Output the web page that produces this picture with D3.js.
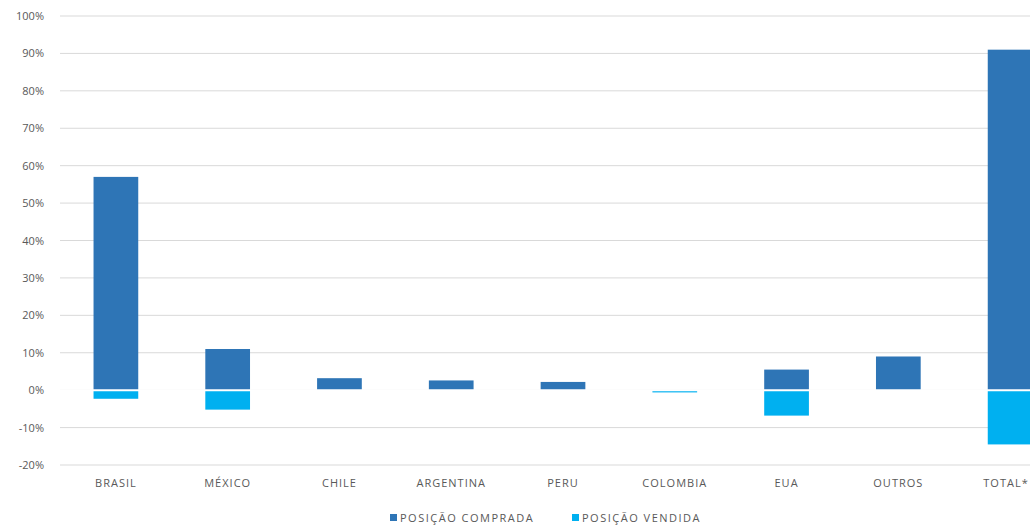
<!DOCTYPE html>
<html><head><meta charset="utf-8">
<script src="https://cdn.jsdelivr.net/npm/d3@7"></script>
<style>body{margin:0;background:#fff;font-family:"Open Sans",sans-serif;overflow:hidden}</style>
</head><body><svg id="chart" width="1030" height="527"></svg>
<script>
var categories = ['BRASIL','MÉXICO','CHILE','ARGENTINA','PERU','COLOMBIA','EUA','OUTROS','TOTAL*'];
var comprada = [57, 11, 3.2, 2.6, 2.2, 0, 5.5, 9, 91];
var vendida = [-2.3, -5.2, 0, 0, 0, -0.6, -6.8, 0, -14.5];
var ticks = [-20,-10,0,10,20,30,40,50,60,70,80,90,100];

var svg = d3.select('#chart');
var x = d3.scaleBand().domain(categories).range([60, 1066]).paddingInner(0.6).paddingOuter(0.3);
var y = d3.scaleLinear().domain([-20, 100]).range([465, 16]);

svg.selectAll('.grid').data(ticks).enter().append('line')
  .attr('x1', 60).attr('x2', 1030)
  .attr('y1', function(d){return y(d);}).attr('y2', function(d){return y(d);})
  .attr('stroke', '#d9d9d9').attr('stroke-width', 1);

svg.selectAll('.tick').data(ticks).enter().append('text')
  .attr('x', 44).attr('y', function(d){return y(d)+4;})
  .attr('text-anchor', 'end').attr('font-size', 11).attr('fill', '#595959')
  .text(function(d){return d+'%';});

svg.selectAll('.bc').data(comprada).enter().append('rect')
  .attr('x', function(d,i){return x(categories[i]);}).attr('width', x.bandwidth())
  .attr('y', function(d){return y(d);}).attr('height', function(d){return y(0)-y(d);})
  .attr('fill', '#2e75b6');
svg.selectAll('.bv').data(vendida).enter().append('rect')
  .attr('x', function(d,i){return x(categories[i]);}).attr('width', x.bandwidth())
  .attr('y', y(0)).attr('height', function(d){return y(d)-y(0);})
  .attr('fill', '#00b0f0');

svg.append('line').attr('x1', 60).attr('x2', 1030).attr('y1', y(0)).attr('y2', y(0))
  .attr('stroke', '#fff').attr('stroke-width', 2);

svg.selectAll('.cat').data(categories).enter().append('text')
  .attr('x', function(d){return Math.min(x(d)+x.bandwidth()/2, 1006);}).attr('y', 487)
  .attr('text-anchor', 'middle').attr('font-size', 11).attr('letter-spacing', 1).attr('fill', '#595959')
  .text(function(d){return d;});

var leg = [['POSIÇÃO COMPRADA','#2e75b6',390],['POSIÇÃO VENDIDA','#00b0f0',572]];
leg.forEach(function(l){
  svg.append('rect').attr('x', l[2]).attr('y', 514).attr('width', 7).attr('height', 7).attr('fill', l[1]);
  svg.append('text').attr('x', l[2]+10).attr('y', 522).attr('font-size', 11).attr('letter-spacing', 1.5)
    .attr('fill', '#595959').text(l[0]);
});
</script></body></html>
